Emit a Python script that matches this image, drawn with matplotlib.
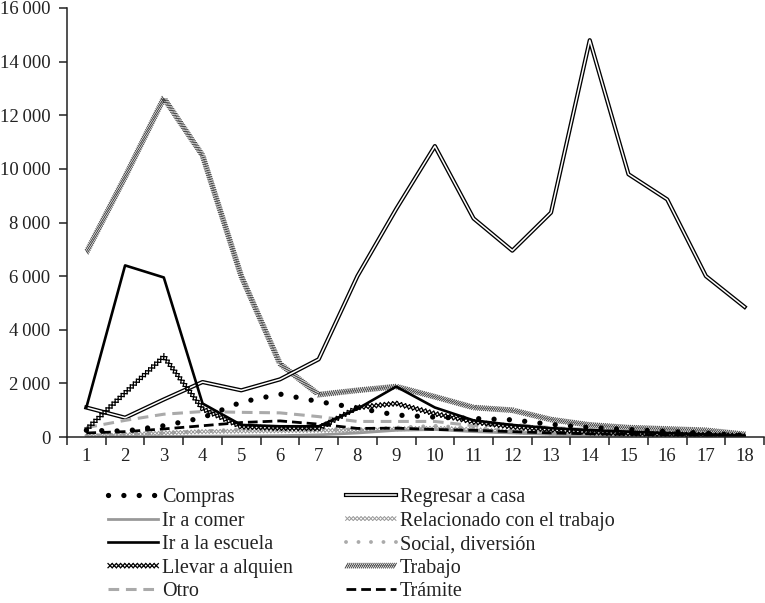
import matplotlib
matplotlib.use("Agg")
import matplotlib.pyplot as plt
import matplotlib.patheffects as pe
from matplotlib.ticker import FixedLocator, FuncFormatter

plt.rcParams['font.family'] = ['Liberation Serif', 'DejaVu Serif']

categories = list(range(1, 19))

compras = [250, 220, 420, 720, 1300, 1600, 1320, 1080, 820, 740, 690, 640, 470, 350, 280, 210, 140, 60]
ir_a_comer = [0, 10, 20, 30, 40, 50, 80, 150, 250, 280, 200, 150, 100, 80, 60, 50, 40, 20]
ir_a_escuela = [1100, 6400, 5950, 1250, 450, 400, 400, 1050, 1880, 1100, 620, 450, 330, 260, 200, 150, 100, 50]
llevar = [280, 1650, 3000, 1050, 380, 330, 320, 1100, 1250, 870, 560, 380, 270, 170, 130, 100, 80, 40]
otro = [350, 620, 850, 950, 920, 900, 760, 580, 580, 580, 420, 470, 350, 280, 220, 160, 110, 50]
regresar = [1100, 720, 1400, 2050, 1740, 2150, 2900, 6000, 8500, 10850, 8150, 6950, 8370, 14800, 9800, 8860, 6000, 4850]
relacionado = [30, 80, 150, 200, 220, 230, 250, 250, 300, 330, 280, 200, 150, 120, 100, 80, 60, 30]
social = [50, 100, 150, 220, 280, 300, 300, 280, 350, 420, 330, 260, 200, 150, 120, 100, 80, 40]
trabajo = [6880, 9700, 12640, 10500, 6000, 2730, 1580, 1740, 1880, 1500, 1100, 1000, 650, 450, 350, 300, 250, 100]
tramite = [150, 200, 300, 420, 540, 600, 480, 320, 330, 280, 250, 200, 150, 120, 100, 80, 60, 40]

y_ticks = [0, 2000, 4000, 6000, 8000, 10000, 12000, 14000, 16000]

fig = plt.figure(figsize=(7.65, 6.03), dpi=100)
ax = fig.add_axes([67 / 765, 166 / 603, 697 / 765, 429 / 603])


def chain(color, spacing, lw):
    L = 0.7071
    return [pe.TickedStroke(spacing=spacing, angle=a, length=L, linewidth=lw, foreground=color)
            for a in (45, 135, -45, -135)]


def hatch(color, spacing, lw, half):
    L = half / (spacing * 0.866)
    return [pe.TickedStroke(spacing=spacing, angle=a, length=L, linewidth=lw, foreground=color)
            for a in (60, -120)]


x = categories
h = {}
h['Trabajo'], = ax.plot(x, trabajo, color='#444444', lw=1,
                        path_effects=hatch('#444444', 1.4, 0.7, 1.7), label='Trabajo')
h['Regresar a casa'], = ax.plot(x, regresar, color='white', lw=1.1,
                                path_effects=[pe.Stroke(linewidth=3.0, foreground='black'), pe.Normal()],
                                label='Regresar a casa')
h['Otro'], = ax.plot(x, otro, color='#aaaaaa', lw=2.2, linestyle=(0, (3.5, 2.2)), label='Otro')
h['Social, diversión'], = ax.plot(x, social, color='#aaaaaa', lw=2.8, linestyle=(0, (0.01, 3.2)),
                                  dash_capstyle='round', label='Social, diversión')
h['Ir a comer'], = ax.plot(x, ir_a_comer, color='#999999', lw=2.0, label='Ir a comer')
h['Relacionado con el trabajo'], = ax.plot(x, relacionado, color='#999999', lw=1,
                                           path_effects=chain('#999999', 2.6, 0.7),
                                           label='Relacionado con el trabajo')
h['Trámite'], = ax.plot(x, tramite, color='black', lw=2.0, linestyle=(0, (3.5, 1.8)), label='Trámite')
h['Llevar a alquien'], = ax.plot(x, llevar, color='black', lw=1,
                                 path_effects=chain('black', 3.0, 0.9), label='Llevar a alquien')
h['Compras'], = ax.plot(x, compras, color='black', lw=3.8, linestyle=(0, (0.01, 2.9)),
                        dash_capstyle='round', label='Compras')
h['Ir a la escuela'], = ax.plot(x, ir_a_escuela, color='black', lw=1.9, label='Ir a la escuela')

ax.set_xlim(0.5, 18.5)
ax.set_ylim(0, 16000)
ax.spines['top'].set_visible(False)
ax.spines['right'].set_visible(False)
for s in ('left', 'bottom'):
    ax.spines[s].set_linewidth(1.1)
    ax.spines[s].set_color('#222222')

ax.xaxis.set_major_locator(FixedLocator(categories))
ax.xaxis.set_minor_locator(FixedLocator([c + 0.5 for c in [0] + categories]))
ax.tick_params(axis='x', which='major', length=0, pad=8, labelsize=13.5, labelcolor='#222222')
ax.tick_params(axis='x', which='minor', length=6, width=1.1, color='#222222', direction='out')
ax.set_yticks(y_ticks)
ax.yaxis.set_major_formatter(FuncFormatter(lambda v, p: f"{int(v):,}".replace(',', '\u2009')))
ax.tick_params(axis='y', length=6, width=1.1, color='#222222', pad=6, labelsize=13.5, labelcolor='#222222')

order = ['Compras', 'Ir a comer', 'Ir a la escuela', 'Llevar a alquien', 'Otro',
         'Regresar a casa', 'Relacionado con el trabajo', 'Social, diversión', 'Trabajo', 'Trámite']
leg = fig.legend([h[k] for k in order], order, loc='upper left',
                 bbox_to_anchor=(108 / 765, 1 - 488 / 603), ncol=2, frameon=False,
                 fontsize=14.5, handlelength=2.5, handletextpad=0.2, columnspacing=2.6,
                 labelspacing=0.22, borderpad=0, borderaxespad=0)
for t in leg.get_texts():
    t.set_color('#222222')

fig.savefig('out.png', dpi=100)
